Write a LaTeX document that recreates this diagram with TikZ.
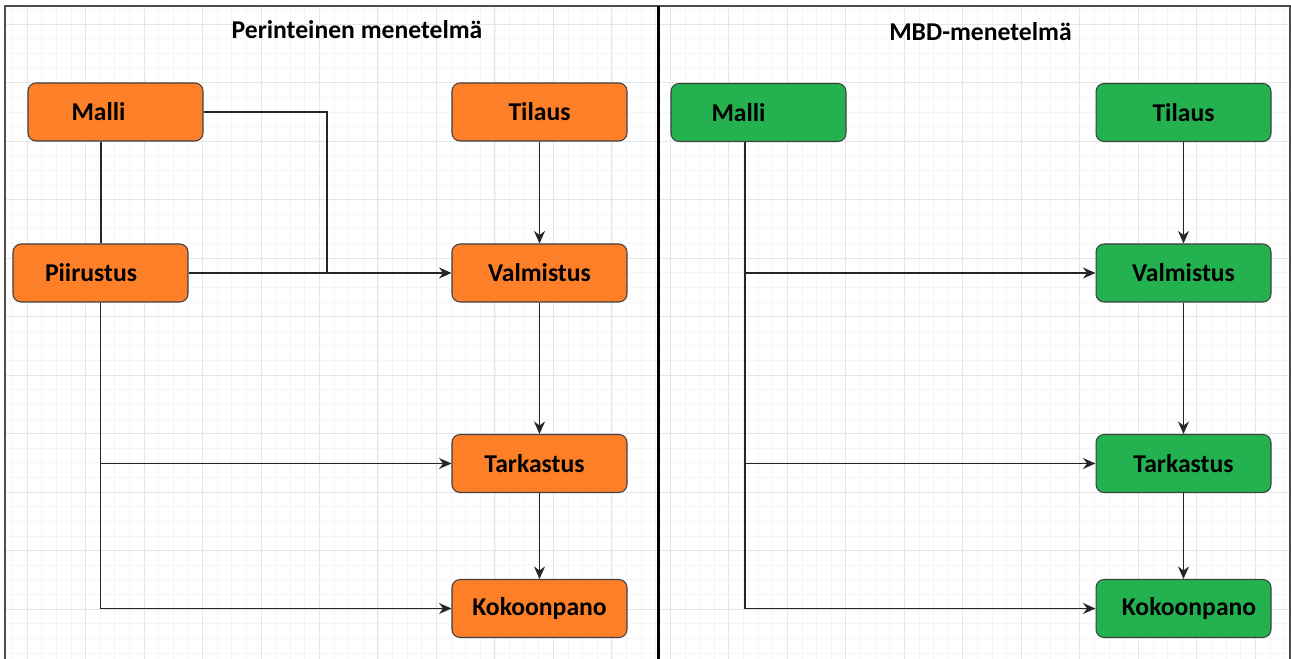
\documentclass[tikz,border=0pt]{standalone}
\usepackage{fontspec}
\setmainfont{Carlito}
\usetikzlibrary{positioning, arrows.meta, calc}
\definecolor{boxorange}{RGB}{253,127,40}
\definecolor{boxgreen}{RGB}{36,178,80}

\begin{document}
\begin{tikzpicture}[x=0.02cm, y=0.02cm,
    stepbox/.style={draw=black!75, line width=0.6pt, rounded corners=0.16cm,
      minimum width=3.5cm, minimum height=1.16cm, inner sep=0pt,
      font=\bfseries\fontsize{14.6}{16}\selectfont},
    oldbox/.style={stepbox, fill=boxorange},
    mbdbox/.style={stepbox, fill=boxgreen},
    flow/.style={draw=black!85, line width=0.75pt},
    flowarr/.style={flow, -{Stealth[length=0.25cm, width=0.22cm]}},
    heading/.style={font=\bfseries\fontsize{14.6}{16}\selectfont}]
  \useasboundingbox (0,0) rectangle (1291,659);
  \fill[white] (0,0) rectangle (1291,659);
  % background grid
  \begin{scope}
    \clip (5,0) rectangle (1290,653);
    \draw[black!4, line width=0.4pt, shift={(-31.5,-8.5)}, xstep=0.2925cm, ystep=0.2925cm]
      (0,0) grid (1400,720);
    \draw[black!10, line width=0.5pt, shift={(-31.5,-8.5)}, xstep=1.17cm, ystep=1.17cm]
      (0,0) grid (1400,720);
  \end{scope}
  \draw[black!70, line width=0.6pt] (5,-10) rectangle (1290,653);
  \draw[black, line width=2pt] (658.5,653) -- (658.5,-10);
  % headings
  \node[heading] (headold) at (357,629) {Perinteinen menetelmä};
  \node[heading] (headmbd) at (980.5,627) {MBD-menetelmä};
  % perinteinen menetelmä
  \node[oldbox] (malli1) at (115.5,547) {Malli\hspace*{0.68cm}};
  \node[oldbox] (tilaus1) at (539.5,547) {Tilaus};
  \node[oldbox] (piirustus1) at (100.5,386) {Piirustus\hspace*{0.38cm}};
  \node[oldbox] (valmistus1) at (539.5,386) {Valmistus};
  \node[oldbox] (tarkastus1) at (539.5,195.5) {Tarkastus\hspace*{0.2cm}};
  \node[oldbox] (kokoonpano1) at (539.5,50.5) {Kokoonpano};
  \coordinate (join1) at (327,386);
  \draw[flow] (malli1.south) ++(-14.5,0) coordinate (mallifoot1) -- (mallifoot1 |- piirustus1.north);
  \draw[flow] (malli1.east) -| (join1);
  \draw[flowarr] (piirustus1.east) -- (valmistus1.west);
  \draw[flowarr] (piirustus1.south) |- (tarkastus1.west);
  \draw[flowarr] (piirustus1.south) |- (kokoonpano1.west);
  \draw[flowarr] (tilaus1) -- (valmistus1);
  \draw[flowarr] (valmistus1) -- (tarkastus1);
  \draw[flowarr] (tarkastus1) -- (kokoonpano1);
  % MBD-menetelmä
  \node[mbdbox] (malli2) at (758.5,546.5) {Malli\hspace*{0.8cm}};
  \node[mbdbox] (tilaus2) at (1183.5,546.5) {Tilaus};
  \node[mbdbox] (valmistus2) at (1183.5,386) {Valmistus};
  \node[mbdbox] (tarkastus2) at (1183.5,195.5) {Tarkastus};
  \node[mbdbox] (kokoonpano2) at (1183.5,50.5) {\hspace*{0.22cm}Kokoonpano};
  \coordinate (mallifoot2) at ([xshift=-0.27cm]malli2.south);
  \draw[flowarr] (mallifoot2) |- (valmistus2.west);
  \draw[flowarr] (mallifoot2) |- (tarkastus2.west);
  \draw[flowarr] (mallifoot2) |- (kokoonpano2.west);
  \draw[flowarr] (tilaus2) -- (valmistus2);
  \draw[flowarr] (valmistus2) -- (tarkastus2);
  \draw[flowarr] (tarkastus2) -- (kokoonpano2);
\end{tikzpicture}
\end{document}
